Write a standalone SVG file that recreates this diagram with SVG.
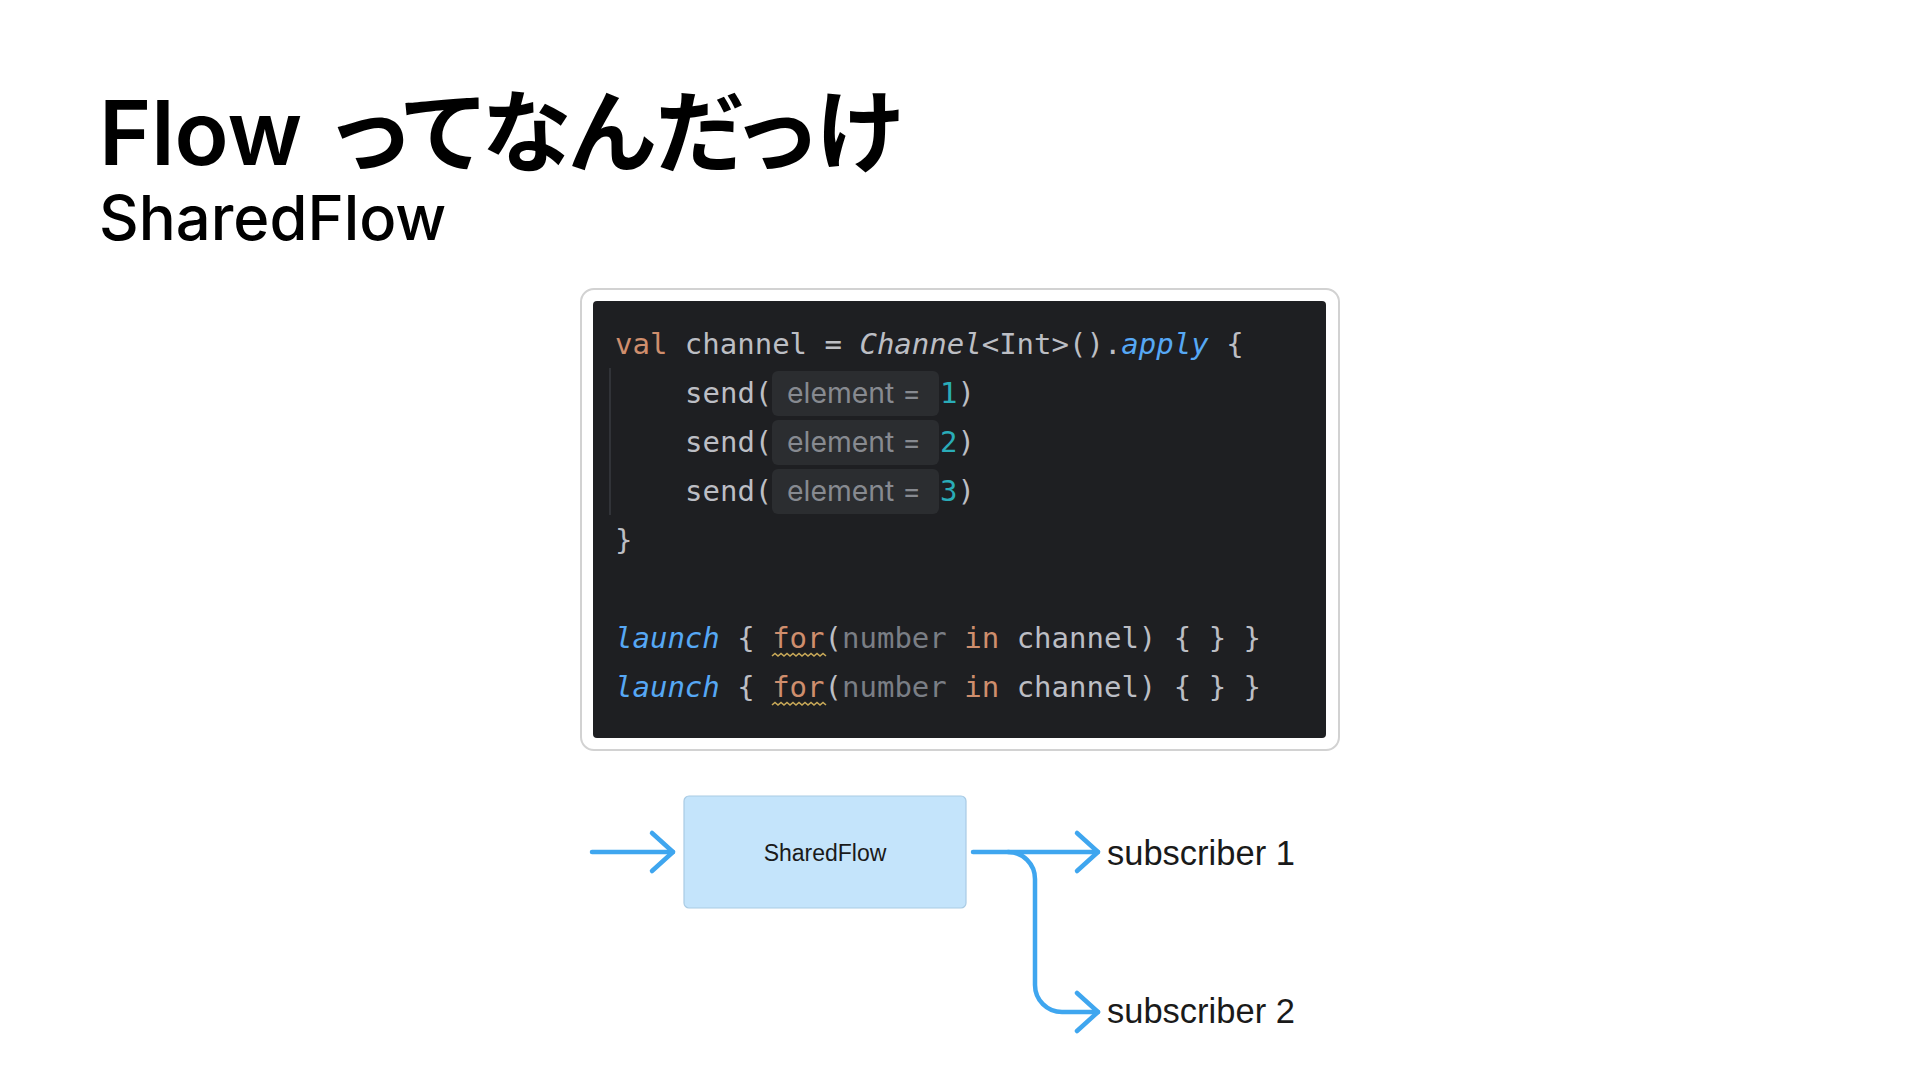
<svg xmlns="http://www.w3.org/2000/svg" width="1920" height="1080" viewBox="0 0 1920 1080">
<defs>
<style>
.title{font-family:Inter,"Liberation Sans","Noto Sans CJK JP",sans-serif;font-weight:600;fill:#000}
.jp{font-family:"Noto Sans CJK JP",sans-serif;font-weight:700;font-feature-settings:"palt"}
.sub{font-family:Inter,"Liberation Sans",sans-serif;font-weight:500;font-size:61.5px;fill:#000}
.code{font-family:"DejaVu Sans Mono","Liberation Mono",monospace;font-size:29px;fill:#bcbec4}
.kw{fill:#cf8e6d}
.fn{fill:#56a8f5}
.it{font-style:italic}
.num{fill:#2aacb8}
.un{fill:#7a7e85}
.hintbg{fill:#2b2d30}
.hint{font-family:Inter,"Liberation Sans",sans-serif;font-size:28px;fill:#878a90}
.wave{fill:none;stroke:#c9a958;stroke-width:1.6}
.conn{fill:none;stroke:#3fa6ef;stroke-width:4.5;stroke-linecap:round;stroke-linejoin:round}
.lbl{font-family:"Liberation Sans",Arial,sans-serif;fill:#1a1a1a}
</style>
<marker id="chev" markerUnits="userSpaceOnUse" markerWidth="50" markerHeight="50" viewBox="-25 -25 50 50" refX="0" refY="0" orient="auto" overflow="visible">
<path d="M-21,-19 L0,0 L-21,19" fill="none" stroke="#3fa6ef" stroke-width="4.5" stroke-linecap="round" stroke-linejoin="round"/>
</marker>
</defs>
<rect width="1920" height="1080" fill="#ffffff"/>

<g id="title">
<text class="title" x="99" y="165" font-size="89">Flow<tspan class="jp" x="334" font-size="90">ってなんだっけ</tspan></text>
<text class="sub" x="99" y="240">SharedFlow</text>
</g>

<g id="code">
<rect x="581" y="289" width="758" height="461" rx="13" fill="#ffffff" stroke="#d2d2d2" stroke-width="2"/>
<rect x="593" y="301" width="733" height="437" rx="4" fill="#1e1f22"/>
<line x1="610" y1="368" x2="610" y2="515" stroke="#393b40" stroke-width="1.5"/>
<text class="code" x="615" y="354" xml:space="preserve"><tspan class="kw">val</tspan> channel = <tspan class="it">Channel</tspan>&lt;Int&gt;().<tspan class="fn it">apply</tspan> {</text>
<rect class="hintbg" x="772" y="371" width="167" height="45" rx="6"/>
<rect class="hintbg" x="772" y="420" width="167" height="45" rx="6"/>
<rect class="hintbg" x="772" y="469" width="167" height="45" rx="6"/>
<text class="code" x="685" y="403">send(</text>
<text class="hint" x="787" y="403" textLength="134" lengthAdjust="spacingAndGlyphs">element =</text>
<text class="code" x="940" y="403"><tspan class="num">1</tspan>)</text>
<text class="code" x="685" y="452">send(</text>
<text class="hint" x="787" y="452" textLength="134" lengthAdjust="spacingAndGlyphs">element =</text>
<text class="code" x="940" y="452"><tspan class="num">2</tspan>)</text>
<text class="code" x="685" y="501">send(</text>
<text class="hint" x="787" y="501" textLength="134" lengthAdjust="spacingAndGlyphs">element =</text>
<text class="code" x="940" y="501"><tspan class="num">3</tspan>)</text>
<text class="code" x="615" y="550">}</text>
<text class="code" x="615" y="648" xml:space="preserve"><tspan class="fn it">launch</tspan> { <tspan class="kw">for</tspan>(<tspan class="un">number</tspan> <tspan class="kw">in</tspan> channel) { } }</text>
<path class="wave" d="M772,656 l3,-2.5 l3,2.5 l3,-2.5 l3,2.5 l3,-2.5 l3,2.5 l3,-2.5 l3,2.5 l3,-2.5 l3,2.5 l3,-2.5 l3,2.5 l3,-2.5 l3,2.5 l3,-2.5 l3,2.5 l3,-2.5 l3,2.5"/>
<text class="code" x="615" y="697" xml:space="preserve"><tspan class="fn it">launch</tspan> { <tspan class="kw">for</tspan>(<tspan class="un">number</tspan> <tspan class="kw">in</tspan> channel) { } }</text>
<path class="wave" d="M772,705 l3,-2.5 l3,2.5 l3,-2.5 l3,2.5 l3,-2.5 l3,2.5 l3,-2.5 l3,2.5 l3,-2.5 l3,2.5 l3,-2.5 l3,2.5 l3,-2.5 l3,2.5 l3,-2.5 l3,2.5 l3,-2.5 l3,2.5"/>
</g>

<g id="sharedflow">
<rect x="684" y="796" width="282" height="112" rx="5" fill="#c4e4fb" stroke="#a9cbe4" stroke-width="1.2"/>
<text class="lbl" x="825" y="861" font-size="23" text-anchor="middle" fill="#222">SharedFlow</text>
</g>

<g id="subscriber1">
<text class="lbl" x="1107" y="865" font-size="34.5">subscriber 1</text>
</g>

<g id="subscriber2">
<text class="lbl" x="1107" y="1023" font-size="34.5">subscriber 2</text>
</g>

<g id="connectors">
<path class="conn" d="M592,852 H673" marker-end="url(#chev)"/>
<path class="conn" d="M973,852 H1098" marker-end="url(#chev)"/>
<path class="conn" d="M1008,852 A27,27 0 0 1 1035,879 V985 A27,27 0 0 0 1062,1012 H1098" marker-end="url(#chev)"/>
</g>
</svg>
